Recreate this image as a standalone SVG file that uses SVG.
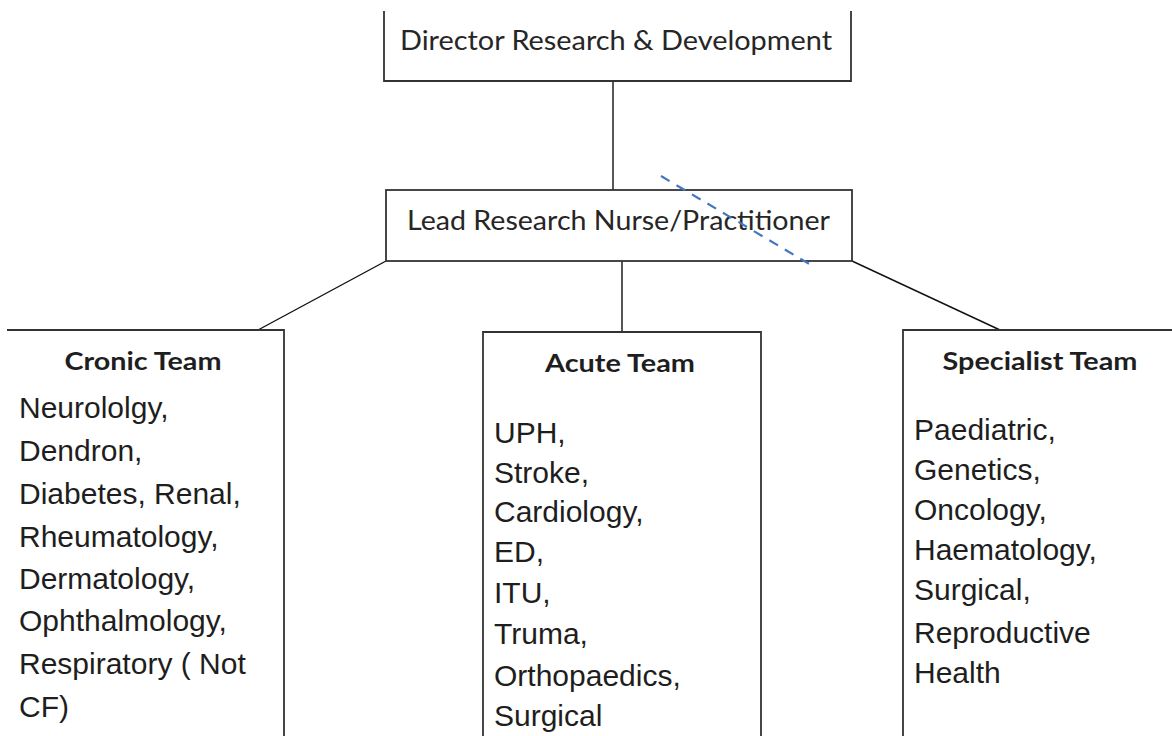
<svg xmlns="http://www.w3.org/2000/svg" width="1172" height="736" viewBox="0 0 1172 736">
<style>
.box{fill:#fff;stroke:#333;stroke-width:1.8}
.conn{fill:none;stroke:#111;stroke-width:1.4}
.head{font-family:Lato,"Open Sans",sans-serif;font-size:26px;fill:#262626}
.team{font-family:Lato,"Open Sans",sans-serif;font-size:25px;font-weight:bold;fill:#1e1e1e;text-anchor:middle}
.list{font-family:"Liberation Sans",Arial,sans-serif;font-size:30px;fill:#1e1e1e}
.dash{fill:none;stroke:#4576c2;stroke-width:2.2;stroke-dasharray:10 8}
</style>
<rect width="1172" height="736" fill="#fff"/>
<g id="connectors">
<line class="conn" x1="613" y1="81" x2="613" y2="190"/>
<line class="conn" x1="622" y1="261" x2="622" y2="332"/>
<line class="conn" x1="386" y1="261" x2="258" y2="330"/>
<line class="conn" x1="852" y1="261" x2="1000" y2="330"/>
</g>
<g id="director">
<path class="box" d="M384,11 V81 H851 V11"/>
<text class="head" x="400" y="50" textLength="432" lengthAdjust="spacingAndGlyphs">Director Research &amp; Development</text>
</g>
<g id="lead">
<rect class="box" x="386" y="190" width="466" height="71"/>
<text class="head" x="407" y="230" textLength="423" lengthAdjust="spacingAndGlyphs">Lead Research Nurse/Practitioner</text>
</g>
<g id="cronic">
<path class="box" d="M7,330 H284 V740"/>
<text class="team" x="143" y="370" textLength="157" lengthAdjust="spacingAndGlyphs">Cronic Team</text>
<text class="list" x="19" y="418">Neurololgy,</text>
<text class="list" x="19" y="461">Dendron,</text>
<text class="list" x="19" y="504">Diabetes, Renal,</text>
<text class="list" x="19" y="547">Rheumatology,</text>
<text class="list" x="19" y="589">Dermatology,</text>
<text class="list" x="19" y="631">Ophthalmology,</text>
<text class="list" x="19" y="674">Respiratory ( Not</text>
<text class="list" x="19" y="717">CF)</text>
</g>
<g id="acute">
<path class="box" d="M483,740 V332 H761 V740"/>
<text class="team" x="620" y="372" textLength="150" lengthAdjust="spacingAndGlyphs">Acute Team</text>
<text class="list" x="494" y="443">UPH,</text>
<text class="list" x="494" y="483">Stroke,</text>
<text class="list" x="494" y="522">Cardiology,</text>
<text class="list" x="494" y="562">ED,</text>
<text class="list" x="494" y="603">ITU,</text>
<text class="list" x="494" y="644">Truma,</text>
<text class="list" x="494" y="686">Orthopaedics,</text>
<text class="list" x="494" y="726">Surgical</text>
</g>
<g id="specialist">
<path class="box" d="M903,740 V330 H1175"/>
<text class="team" x="1040" y="370" textLength="195" lengthAdjust="spacingAndGlyphs">Specialist Team</text>
<text class="list" x="914" y="440">Paediatric,</text>
<text class="list" x="914" y="480">Genetics,</text>
<text class="list" x="914" y="520">Oncology,</text>
<text class="list" x="914" y="560">Haematology,</text>
<text class="list" x="914" y="600">Surgical,</text>
<text class="list" x="914" y="643">Reproductive</text>
<text class="list" x="914" y="683">Health</text>
</g>
<g id="annotation">
<line class="dash" x1="661" y1="176" x2="811" y2="265"/>
</g>
</svg>
